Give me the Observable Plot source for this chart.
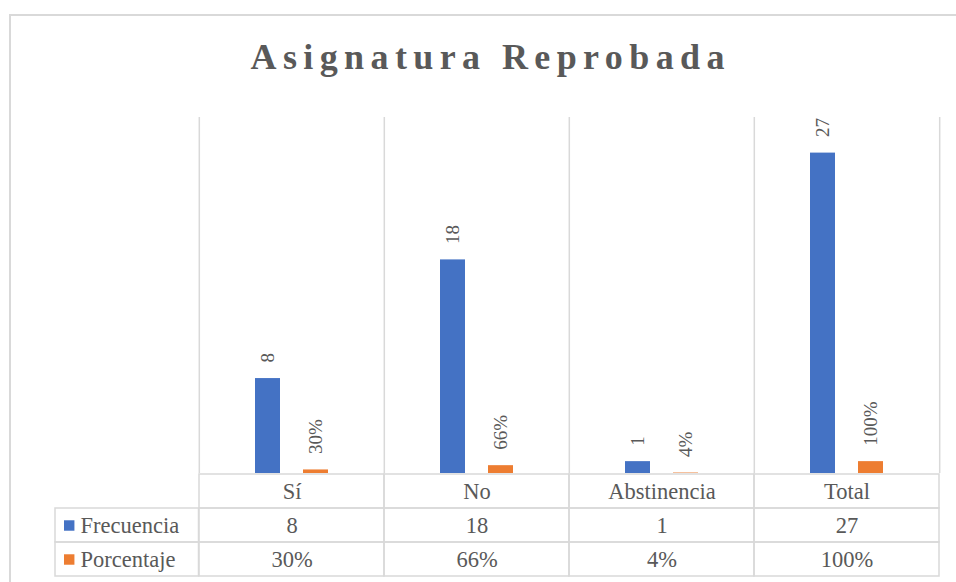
<!DOCTYPE html>
<html>
<head>
<meta charset="utf-8">
<script src="https://cdn.jsdelivr.net/npm/d3@7"></script>
<script src="https://cdn.jsdelivr.net/npm/@observablehq/plot@0.6"></script>
<style>
  html, body { margin: 0; padding: 0; background: #fff; }
  body { width: 956px; height: 582px; position: relative; overflow: hidden; font-family: 'Liberation Serif', Tinos, 'Times New Roman', serif; }
  #frame { position: absolute; left: 9px; top: 14px; width: 1000px; height: 620px; border-left: 2px solid #d9d9d9; border-top: 2px solid #d9d9d9; }
  #title { position: absolute; left: 0; top: 39px; width: 975px; text-align: center; font-family: 'Liberation Serif', Tinos, 'Times New Roman', serif; font-size: 36px; line-height: 36px; font-weight: bold; letter-spacing: 6.4px; padding-left: 6.4px; box-sizing: border-box; color: #595959; white-space: nowrap; }
  .layer { position: absolute; }
  .layer svg { display: block; overflow: visible; }
  .layer svg, .layer svg text { font-family: 'Liberation Serif', Tinos, 'Times New Roman', serif !important; }
</style>
</head>
<body>
<div id="frame"></div>
<div id="title">Asignatura Reprobada</div>
<div class="layer" id="chart" style="left:0;top:100px"></div>
<div class="layer" id="table" style="left:0;top:472px"></div>
<div class="layer" id="legend" style="left:0;top:472px"></div>
<script>
// ---- data ----
const categories = ["Sí", "No", "Abstinencia", "Total"];
const series = ["Frecuencia", "Porcentaje"];
const frecuencia = [8, 18, 1, 27];
const porcentaje = [0.30, 0.66, 0.04, 1.00];
const colors = ["#4472C4", "#ED7D31"];
const yDomain = [0, 30];

// ---- derived tables ----
const fmtPct = d3.format(".0%");
const data = categories.map((c, i) => ({cat: c, frecuencia: frecuencia[i], porcentaje: porcentaje[i]}));
const rowKeys = ["cat", ...series];
const tableCells = [
  ...categories.map((c) => ({cat: c, row: "cat", label: c})),
  ...categories.map((c, i) => ({cat: c, row: series[0], label: String(frecuencia[i])})),
  ...categories.map((c, i) => ({cat: c, row: series[1], label: fmtPct(porcentaje[i])}))
];

const W = 956, ML = 198.5, MR = 16;
const half = (W - ML - MR) / categories.length / 2;
const grid = "#d9d9d9", textColor = "#595959", font = "'Liberation Serif', Tinos, 'Times New Roman', serif";

const chart = Plot.plot({
  width: W, height: 373,
  marginLeft: ML, marginRight: MR, marginTop: 17, marginBottom: 0,
  x: {type: "band", domain: categories, padding: 0, axis: null},
  y: {domain: yDomain, axis: null},
  style: {background: "transparent", fontFamily: font, overflow: "visible"},
  marks: [
    Plot.ruleX(categories, {x: (d) => d, dx: -half, stroke: grid, strokeWidth: 1.5}),
    Plot.ruleX(categories.slice(-1), {x: (d) => d, dx: half, stroke: grid, strokeWidth: 1.5}),
    Plot.barY(data, {x: "cat", y: "frecuencia", fill: colors[0], insetLeft: 56, insetRight: 104}),
    Plot.barY(data, {x: "cat", y: "porcentaje", fill: colors[1], insetLeft: 104, insetRight: 56}),
    Plot.text(data, {x: "cat", y: "frecuencia", text: (d) => String(d.frecuencia), rotate: -90, textAnchor: "start",
      dx: -24, dy: -16, fontSize: 19, fontFamily: font, fill: textColor}),
    Plot.text(data, {x: "cat", y: "porcentaje", text: (d) => fmtPct(d.porcentaje), rotate: -90, textAnchor: "start",
      dx: 24, dy: -16, fontSize: 19, fontFamily: font, fill: textColor})
  ]
});
document.getElementById("chart").appendChild(chart);

const table = Plot.plot({
  width: W, height: 106,
  marginLeft: ML, marginRight: MR, marginTop: 0.7, marginBottom: 1.3,
  x: {type: "band", domain: categories, padding: 0, axis: null},
  y: {type: "band", domain: rowKeys, padding: 0, axis: null},
  style: {background: "transparent", fontFamily: font, overflow: "visible"},
  marks: [
    Plot.cell(tableCells, {x: "cat", y: "row", fill: "none", stroke: grid, strokeWidth: 1.5, inset: 0}),
    Plot.text(tableCells, {x: "cat", y: "row", text: "label", fontSize: 22.5, fontFamily: font, fill: textColor})
  ]
});
document.getElementById("table").appendChild(table);

const legend = Plot.plot({
  width: ML + 1.5, height: 106,
  marginLeft: 55, marginRight: 1.5, marginTop: 0.7, marginBottom: 1.3,
  y: {type: "band", domain: rowKeys, padding: 0, axis: null},
  color: {domain: series, range: colors},
  style: {background: "transparent", fontFamily: font, overflow: "visible"},
  marks: [
    Plot.cell(series, {y: (d) => d, fill: "none", stroke: grid, strokeWidth: 1.5, inset: 0}),
    Plot.dot(series, {y: (d) => d, frameAnchor: "left", dx: 13.7, symbol: "square", r: 5.9, fill: (d) => d, stroke: "none"}),
    Plot.text(series, {y: (d) => d, frameAnchor: "left", dx: 25, text: (d) => d, textAnchor: "start", fontSize: 22.5, fontFamily: font, fill: textColor})
  ]
});
document.getElementById("legend").appendChild(legend);
</script>
</body>
</html>
